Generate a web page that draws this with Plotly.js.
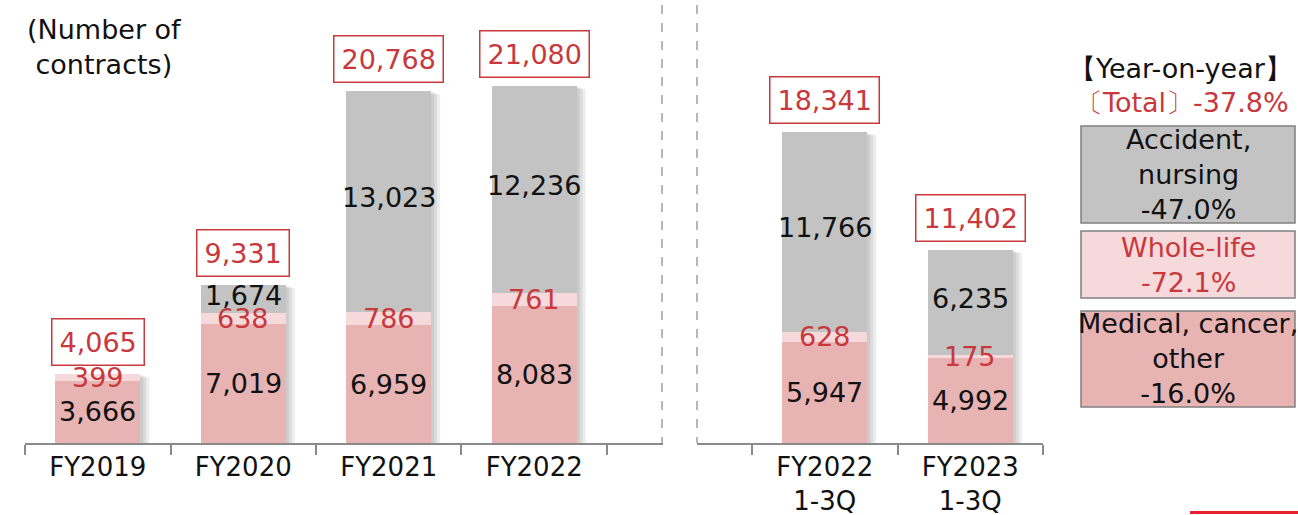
<!DOCTYPE html>
<html>
<head>
<meta charset="utf-8">
<script src="https://cdn.plot.ly/plotly-3.0.1.min.js"></script>
<style>html,body{margin:0;padding:0;background:#fff;}#chart{width:1298px;height:515px;}</style>
</head>
<body>
<div id="chart"></div>
<script>
// ---- data ----
const categoriesLeft = ["FY2019", "FY2020", "FY2021", "FY2022"];
const medicalLeft   = [3666, 7019, 6959, 8083];
const wholeLifeLeft = [399, 638, 786, 761];
const accidentLeft  = [0, 1674, 13023, 12236];
const totalsLeft    = [4065, 9331, 20768, 21080];

const categoriesRight = ["FY2022<br>1-3Q", "FY2023<br>1-3Q"];
const medicalRight   = [5947, 4992];
const wholeLifeRight = [628, 175];
const accidentRight  = [11766, 6235];
const totalsRight    = [18341, 11402];

const seriesNames = ["Medical, cancer, other", "Whole-life", "Accident, nursing"];
const legendLabels = ["Accident,<br>nursing", "Whole-life", "Medical, cancer,<br>other"];
const yoyChanges = ["-47.0%", "-72.1%", "-16.0%"];
const yoyTotal = "-37.8%";
const yAxisLabel = "(Number of<br>contracts)";
const legendHeader = "【Year-on-year】";

// ---- style ----
const W = 1298, H = 515, PB = 443;
const FONT = "DejaVu Sans, Verdana, sans-serif";
const C_MED = "#E8B3B3", C_WL = "#F6D9DA", C_ACC = "#C3C3C3";
const RED = "#C8383C", INK = "#111111", AXIS = "#8A8A8A";
const FS = 27;
const fmt = v => v.toLocaleString("en-US");
const px = x => x / W;
const py = y => (PB - y) / PB;

const traces = [];
function addPanel(cats, med, wl, acc, xa) {
  const sets = [[med, C_MED], [wl, C_WL], [acc, C_ACC]];
  sets.forEach(([vals, col], k) => {
    traces.push({
      type: "bar", x: cats, y: vals, name: seriesNames[k],
      xaxis: xa, yaxis: "y", marker: {color: col, line: {width: 0}},
      hoverinfo: "skip", showlegend: false
    });
  });
}
addPanel(categoriesLeft, medicalLeft, wholeLifeLeft, accidentLeft, "x");
addPanel(categoriesRight, medicalRight, wholeLifeRight, accidentRight, "x2");

const annotations = [];
const shapes = [];
const HALF = 0.292;
function note(o) {
  return Object.assign({showarrow: false, xanchor: "center", yanchor: "middle"}, o);
}
function panelDecor(med, wl, acc, tot, xref) {
  med.forEach((m, i) => {
    const w = wl[i], a = acc[i];
    // soft shadows to the right of each bar
    [3, 6, 9].forEach(o => {
      shapes.push({type: "rect", xref: xref, yref: "y", layer: "below",
        x0: i - HALF + o / 145.5, x1: i + HALF + o / 145.5, y0: 0, y1: tot[i] - o * 20,
        fillcolor: "rgba(0,0,0,0.07)", line: {width: 0}});
    });
    annotations.push(note({xref: xref, yref: "y", x: i, y: m / 2, text: fmt(m),
      font: {family: FONT, size: FS, color: INK}}));
    annotations.push(note({xref: xref, yref: "y", x: i, y: m + w / 2, text: fmt(w),
      font: {family: FONT, size: FS, color: RED}}));
    if (a > 0) annotations.push(note({xref: xref, yref: "y", x: i, y: m + w + a / 2, yshift: 4, text: fmt(a),
      font: {family: FONT, size: FS, color: INK}}));
    annotations.push(note({xref: xref, yref: "y", x: i, y: tot[i], yanchor: "bottom", yshift: 8,
      text: fmt(tot[i]), bordercolor: RED, borderwidth: 1.5, borderpad: 7,
      bgcolor: "#fff", font: {family: FONT, size: FS, color: RED}}));
  });
}
panelDecor(medicalLeft, wholeLifeLeft, accidentLeft, totalsLeft, "x");
panelDecor(medicalRight, wholeLifeRight, accidentRight, totalsRight, "x2");

// y label
annotations.push(note({xref: "paper", yref: "paper", x: px(104), y: py(47), text: yAxisLabel,
  align: "center", font: {family: FONT, size: FS, color: INK}}));

// dashed dividers
[662, 697].forEach(x => shapes.push({type: "line", xref: "paper", yref: "paper",
  x0: px(x), x1: px(x), y0: py(5), y1: py(PB), line: {color: "#A0A0A0", width: 1.5, dash: "dash"}}));

// legend
annotations.push(note({xref: "paper", yref: "paper", x: px(1180), y: py(68), text: legendHeader,
  font: {family: FONT, size: FS, color: INK}}));
annotations.push(note({xref: "paper", yref: "paper", x: px(1182), y: py(102), text: "〔Total〕" + yoyTotal,
  font: {family: FONT, size: FS, color: RED}}));
const boxes = [[126, 223, C_ACC, INK], [231, 298, C_WL, RED], [311, 407, C_MED, INK]];
boxes.forEach(([y0, y1, fill, tc], k) => {
  shapes.push({type: "rect", xref: "paper", yref: "paper", x0: px(1081), x1: px(1295),
    y0: py(y1), y1: py(y0), fillcolor: fill, line: {color: "#808080", width: 1.5}});
  annotations.push(note({xref: "paper", yref: "paper", x: px(1188), y: py((y0 + y1) / 2),
    text: legendLabels[k] + "<br>" + yoyChanges[k], align: "center",
    font: {family: FONT, size: FS, color: tc}}));
});

// bottom red strip
shapes.push({type: "rect", xref: "paper", yref: "paper", x0: px(1190), x1: 1,
  y0: py(514), y1: py(511), fillcolor: "#E8202F", line: {width: 0}});

const xCommon = {
  type: "category", showline: true, linecolor: AXIS, linewidth: 2,
  ticks: "outside", tickson: "boundaries", ticklen: 10, tickcolor: AXIS, tickwidth: 2,
  showgrid: false, zeroline: false, fixedrange: true,
  tickfont: {family: FONT, size: 26, color: INK}, anchor: "y"
};

const layout = {
  width: W, height: H,
  margin: {l: 0, r: 0, t: 0, b: H - PB, pad: 0},
  paper_bgcolor: "#fff", plot_bgcolor: "rgba(0,0,0,0)",
  barmode: "stack", bargap: 0.416, showlegend: false,
  xaxis: Object.assign({}, xCommon, {domain: [px(25), px(663)], range: [-0.5, 3.885]}),
  xaxis2: Object.assign({}, xCommon, {domain: [px(697), px(1043)], range: [-0.878, 1.5]}),
  yaxis: {range: [0, 26151], visible: false, fixedrange: true, domain: [0, 1]},
  annotations: annotations, shapes: shapes
};

Plotly.newPlot("chart", traces, layout, {staticPlot: true, displayModeBar: false});
</script>
</body>
</html>
